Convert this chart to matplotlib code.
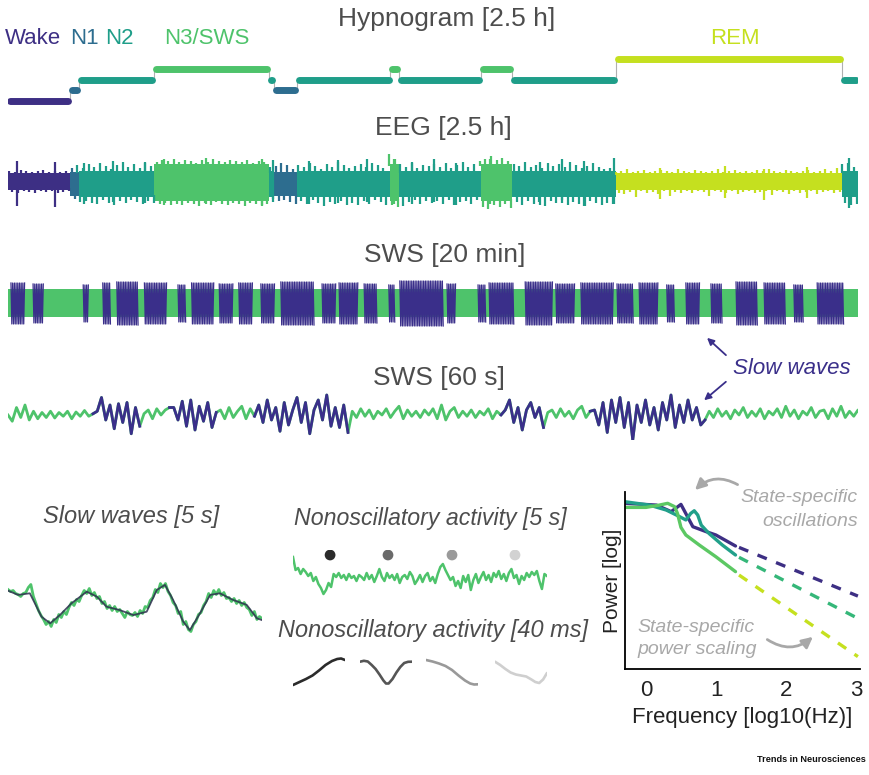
import numpy as np
import matplotlib.pyplot as plt

plt.rcParams['font.family'] = ['Liberation Sans', 'DejaVu Sans']

# ---- hypnogram (minutes) ----
hyp_edges = [0, 11, 12.5, 25.8, 46, 47, 51, 67.5, 69, 83.4, 89, 107.3, 147.2, 150]
hyp_stages = ['Wake', 'N1', 'N2', 'N3', 'N2', 'N1', 'N2', 'N3', 'N2', 'N3', 'N2', 'REM', 'N2']
stage_names = ['Wake', 'N1', 'N2', 'N3', 'REM']
stage_level = [0, 1, 2, 3, 4]
stage_colors = ['#3d2f84', '#2d6d8f', '#1f9e89', '#4ec36b', '#c5e01f']
# EEG band half-heights per stage (up, down)
eeg_band_up = [0.45, 0.5, 0.55, 0.9, 0.45]
eeg_band_dn = [0.4, 0.7, 0.75, 0.95, 0.38]

# ---- EEG 2.5 h: ragged edge above / below the band, one value per minute ----
eeg_edge_up = [0.1, 0.05, 0.15, 0.1, 0.05, 0.1, 0.15, 0.05, 0.1, 0.05, 0.1, 0.2, 0.3, 0.15, 0.35,
               0.2, 0.4, 0.25, 0.1, 0.3, 0.45, 0.2, 0.35, 0.15, 0.4, 0.25, 0.1, 0.2, 0.15, 0.25,
               0.1, 0.2, 0.15, 0.05, 0.2, 0.1, 0.25, 0.15, 0.1, 0.2, 0.15, 0.1, 0.2, 0.05, 0.15,
               0.1, 0.2, 0.3, 0.45, 0.35, 0.15, 0.3, 0.2, 0.4, 0.25, 0.1, 0.35, 0.2, 0.45, 0.3,
               0.15, 0.25, 0.35, 0.2, 0.4, 0.3, 0.15, 0.5, 0.25, 0.35, 0.2, 0.4, 0.15, 0.3, 0.25,
               0.35, 0.2, 0.4, 0.15, 0.3, 0.45, 0.2, 0.35, 0.15, 0.25, 0.4, 0.2, 0.3, 0.15, 0.35,
               0.25, 0.45, 0.2, 0.3, 0.15, 0.4, 0.25, 0.35, 0.2, 0.45, 0.3, 0.15, 0.25, 0.4, 0.2,
               0.1, 0.15, 0.05, 0.1, 0.2, 0.05, 0.1, 0.15, 0.05, 0.1, 0.15, 0.1, 0.05, 0.2, 0.1,
               0.05, 0.15, 0.1, 0.05, 0.1, 0.2, 0.05, 0.1, 0.15, 0.05, 0.1, 0.05, 0.15, 0.1, 0.2,
               0.1, 0.05, 0.15, 0.1, 0.05, 0.1, 0.15, 0.05, 0.1, 0.2, 0.1, 0.25, 0.35, 0.4, 0.2]
eeg_edge_dn = [0.1, 0.15, 0.05, 0.1, 0.15, 0.05, 0.1, 0.05, 0.15, 0.1, 0.05, 0.15, 0.25, 0.2, 0.3,
               0.35, 0.15, 0.3, 0.4, 0.2, 0.3, 0.15, 0.25, 0.35, 0.2, 0.3, 0.15, 0.1, 0.2, 0.15,
               0.2, 0.1, 0.15, 0.25, 0.1, 0.2, 0.05, 0.15, 0.2, 0.1, 0.15, 0.25, 0.1, 0.15, 0.2,
               0.15, 0.1, 0.25, 0.2, 0.3, 0.4, 0.2, 0.35, 0.15, 0.3, 0.45, 0.25, 0.35, 0.2, 0.4,
               0.3, 0.4, 0.2, 0.35, 0.15, 0.25, 0.4, 0.2, 0.3, 0.45, 0.25, 0.15, 0.35, 0.2, 0.3,
               0.2, 0.35, 0.15, 0.4, 0.25, 0.2, 0.35, 0.15, 0.3, 0.4, 0.2, 0.3, 0.15, 0.35, 0.25,
               0.4, 0.2, 0.35, 0.25, 0.45, 0.2, 0.3, 0.15, 0.4, 0.25, 0.35, 0.45, 0.2, 0.3, 0.4,
               0.3, 0.35, 0.15, 0.2, 0.1, 0.35, 0.05, 0.15, 0.1, 0.2, 0.05, 0.3, 0.1, 0.15, 0.05,
               0.15, 0.05, 0.1, 0.3, 0.05, 0.1, 0.15, 0.05, 0.2, 0.1, 0.05, 0.15, 0.1, 0.05, 0.25,
               0.05, 0.1, 0.2, 0.05, 0.15, 0.1, 0.05, 0.2, 0.1, 0.05, 0.15, 0.1, 0.3, 0.4, 0.35]
# a few larger spikes (minute, top, bottom)
eeg_spk_t = [1.6, 8.3, 13.4, 18.6, 24.2, 27.5, 35.0, 44.8, 46.8, 53.2, 58.3, 63.3, 68.2,
             71.3, 75.2, 79.1, 85.0, 93.9, 97.8, 101.7, 106.9, 115.0, 126.5, 133.5, 141.0, 148.5]
eeg_spk_hi = [1.05, 1.0, 0.95, 1.05, 1.0, 1.15, 1.2, 1.15, 1.1, 1.05, 1.1, 1.15, 1.15,
              1.0, 1.15, 0.95, 1.15, 1.0, 1.15, 1.05, 1.2, 0.7, 0.8, 0.65, 0.75, 1.2]
eeg_spk_lo = [-1.2, -1.25, -1.1, -1.0, -1.05, -1.15, -1.1, -1.2, -1.0, -1.1, -1.05, -1.0, -1.1,
              -1.1, -1.0, -1.15, -1.1, -1.15, -1.05, -1.2, -1.1, -0.85, -0.8, -0.9, -0.8, -1.3]

# ---- SWS 20 min: slow wave bursts (minutes) ----
sws20_start = [0.07, 0.59, 1.77, 2.23, 2.56, 3.21, 4.0, 4.32, 4.97, 5.43, 5.95, 6.42, 7.39, 7.79,
               8.38, 8.96, 9.22, 10.33, 11.06, 11.32, 12.17, 12.89, 13.48, 14.33, 14.85, 15.5,
               15.95, 16.54, 17.13, 17.79, 18.49, 19.04]
sws20_end = [0.40, 0.85, 1.91, 2.42, 3.08, 3.74, 4.19, 4.85, 5.30, 5.76, 6.28, 7.2, 7.72, 8.24,
             8.70, 9.12, 10.26, 10.54, 11.25, 11.91, 12.82, 13.34, 14.26, 14.71, 15.3, 15.69,
             16.28, 16.8, 17.65, 18.31, 18.71, 19.67]
sws20_amp = [1.0, 0.95, 0.9, 1.0, 1.05, 1.0, 0.9, 1.0, 0.95, 1.0, 0.95, 1.05, 0.95, 1.0,
             0.95, 0.9, 1.1, 0.95, 0.9, 1.0, 1.05, 0.95, 1.0, 0.95, 1.0, 0.9,
             1.0, 0.95, 1.05, 1.0, 0.9, 1.0]

# ---- SWS 60 s (0.3 s steps) ----
sws60_uv = [0.0, -0.25, 0.3, -0.1, 0.4, -0.2, 0.15, -0.15, 0.1, -0.1,
            0.15, -0.12, 0.1, -0.05, 0.15, -0.15, 0.12, -0.05, 0.18, -0.05,
            0.05, 0.15, 0.7, -0.2, 0.4, -0.55, 0.45, -0.3, 0.5, -0.75,
            0.3, -0.45, 0.05, 0.2, -0.15, 0.25, 0.0, 0.2, 0.3, 0.3,
            -0.2, 0.55, -0.45, 0.6, -0.6, 0.35, -0.25, 0.5, -0.5, 0.1,
            0.2, -0.15, 0.3, -0.1, 0.15, 0.35, -0.15, 0.25, -0.05, 0.4,
            -0.3, 0.6, -0.2, 0.3, -0.65, 0.5, -0.4, 0.2, 0.7, -0.3,
            0.5, -0.75, 0.2, 0.6, -0.2, 0.8, -0.45, 0.3, -0.5, 0.4,
            -0.7, 0.15, -0.1, 0.25, -0.05, 0.2, -0.15, 0.15, 0.0, 0.25,
            -0.1, 0.15, 0.35, -0.15, 0.2, -0.05, 0.15, -0.1, 0.2, 0.0,
            0.25, -0.15, 0.4, -0.2, 0.15, 0.3, -0.1, 0.15, -0.05, 0.2,
            -0.1, 0.15, 0.0, 0.25, -0.15, 0.15, 0.0, 0.2, 0.6, -0.3,
            0.3, -0.6, 0.2, 0.5, -0.1, 0.3, -0.5, 0.1, 0.2, -0.1,
            0.25, -0.05, 0.15, -0.15, 0.2, 0.35, -0.1, 0.15, 0.2, -0.4,
            0.5, -0.7, 0.6, -0.3, 0.7, -0.5, 0.5, -1.0, 0.4, -0.3,
            0.6, -0.4, 0.3, -0.6, 0.5, -0.2, 0.8, -0.5, 0.4, -0.3,
            0.6, -0.2, 0.3, -0.4, -0.2, 0.15, -0.1, 0.25, -0.05, 0.15,
            -0.15, 0.2, 0.0, 0.3, -0.1, 0.15, -0.05, 0.25, -0.15, 0.15,
            0.0, 0.25, -0.1, 0.35, -0.05, 0.2, -0.15, 0.15, 0.0, 0.3,
            -0.1, 0.15, 0.2, -0.15, 0.25, -0.05, 0.35, -0.1, 0.15, -0.05,
            0.2, -0.15, 0.25, 0.0, 0.15, -0.1, 0.3, -0.05, 0.15, -0.15,
            0.2]
sws60_slow = [(6.3, 9.3), (11.7, 14.7), (17.7, 24.0), (35.1, 37.8), (41.4, 49.2)]

# ---- slow waves 5 s ----
sw_smooth_t = [0.0, 0.2, 0.43, 0.66, 0.83, 1.02, 1.25, 1.55, 1.75, 1.94, 2.2, 2.47, 2.73,
               2.93, 3.09, 3.25, 3.45, 3.58, 3.78, 3.98, 4.17, 4.43, 4.7, 4.9, 5.0]
sw_smooth_v = [0.84, 0.63, 0.71, -0.46, -0.79, -0.38, 0.21, 0.79, 0.54, 0.04, -0.13, -0.38, -0.21,
               0.88, 1.13, 0.38, -0.71, -1.13, -0.29, 0.63, 0.71, 0.38, 0.13, -0.54, -0.63]
sw_raw_v = [0.9, 0.8, 0.85, 0.7, 0.65, 0.55, 0.7, 0.75, 1.0, 1.15,
            0.55, 0.2, -0.15, -0.4, -0.6, -0.85, -0.7, -0.95, -0.6, -0.75,
            -0.35, -0.5, -0.2, -0.35, 0.0, 0.25, 0.1, 0.4, 0.3, 0.6,
            0.85, 0.7, 0.95, 0.6, 0.75, 0.45, 0.55, 0.2, 0.3, -0.05,
            0.1, -0.15, 0.05, -0.2, -0.1, -0.3, -0.5, -0.2, -0.35, -0.4,
            -0.25, -0.45, -0.15, -0.3, 0.05, 0.0, 0.35, 0.5, 0.9, 0.75,
            1.2, 1.0, 1.2, 0.8, 0.6, 0.25, 0.1, -0.3, -0.2, -0.85,
            -0.7, -1.1, -1.2, -0.85, -0.7, -0.35, -0.25, 0.1, 0.3, 0.7,
            0.5, 0.85, 0.65, 0.9, 0.6, 0.75, 0.45, 0.5, 0.3, 0.45,
            0.2, 0.35, 0.1, 0.25, 0.0, -0.1, -0.4, -0.2, -0.6, -0.45,
            -0.55]

# ---- nonoscillatory activity 5 s ----
no_raw_v = [2.1, 0.8, 1.0, 0.4, 0.9, 0.6, 0.2, 0.5, -0.3, 0.1,
            -0.6, -1.0, -1.6, -1.2, -0.5, -0.9, 0.4, 0.1, 0.5, 0.0,
            0.3, -0.2, 0.4, 0.0, 0.2, -0.3, 0.3, 0.1, -0.2, 0.5,
            -0.1, 0.3, -0.4, 0.2, 0.9, 0.1, -0.3, 0.5, 0.0, 0.3,
            -0.2, 0.4, -0.5, 0.1, 0.3, -0.1, 0.6, 0.2, -0.6, -0.2,
            0.3, -0.4, 0.2, 0.5, -0.3, 0.1, -0.5, 0.4, 1.1, 1.4,
            0.8, 0.3, -0.2, 0.1, -0.8, -0.3, -1.0, 0.2, -0.4, 0.3,
            -1.2, -0.2, 0.4, -0.5, 0.1, 0.6, -0.2, 0.3, -0.4, 0.5,
            0.1, 0.7, -0.1, 0.4, -0.3, 0.5, 0.9, 0.0, 0.3, -0.6,
            0.2, -0.2, 0.5, 0.1, 0.6, 0.3, 0.7, -0.3, -1.1, 0.4,
            0.2]
dot_t = [0.73, 1.87, 3.13, 4.37]
dot_colors = ['#2b2b2b', '#6a6a6a', '#9a9a9a', '#d2d2d2']

# ---- nonoscillatory activity 40 ms ----
ms_t = [[0, 5, 10, 15, 20, 25, 30, 34, 37, 40],
        [0, 3, 6, 9, 12, 15, 18, 20, 22, 25, 28, 31, 34, 37, 40],
        [0, 5, 10, 15, 20, 25, 30, 34, 37, 40],
        [0, 4, 8, 12, 16, 20, 24, 28, 31, 34, 37, 40]]
ms_v = [[-1.3, -1.0, -0.7, -0.35, 0.15, 0.7, 1.1, 1.3, 1.35, 1.2],
        [1.03, 1.12, 1.05, 0.7, 0.3, -0.25, -0.85, -1.15, -1.15, -0.7, -0.05, 0.5, 0.9, 1.02, 1.03],
        [1.2, 1.05, 0.85, 0.6, 0.2, -0.35, -0.85, -1.15, -1.25, -1.23],
        [1.03, 0.7, 0.3, -0.05, -0.25, -0.35, -0.45, -0.75, -1.0, -1.1, -0.75, -0.1]]
ms_colors = ['#2b2b2b', '#555555', '#999999', '#cfcfcf']

# ---- power spectra ----
psd_f = [[-0.31, 0.14, 0.35, 0.49, 0.66, 0.85, 0.99, 1.27],
         [-0.31, 0.04, 0.28, 0.47, 0.56, 0.63, 0.68, 0.73, 0.78, 0.89, 1.08, 1.27],
         [-0.31, -0.01, 0.18, 0.30, 0.40, 0.44, 0.49, 0.56, 0.75, 0.99, 1.27]]
psd_p = [[0.936, 0.926, 0.889, 0.93, 0.804, 0.776, 0.757, 0.695],
         [0.945, 0.926, 0.898, 0.861, 0.842, 0.879, 0.894, 0.87, 0.813, 0.766, 0.701, 0.644],
         [0.913, 0.913, 0.926, 0.936, 0.917, 0.879, 0.80, 0.757, 0.701, 0.634, 0.55]]
psd_colors = ['#3d2f84', '#21a08a', '#5cc863']
fit_f = [1.32, 3.02]
fit_p = [[0.687, 0.412], [0.631, 0.286], [0.531, 0.07]]
fit_colors = ['#3d2f84', '#35b779', '#c5e01f']

GREEN = '#4ec36b'
BLUE = '#3a2f8a'
TXT = '#4d4d4d'

W, H = 870, 775
fig = plt.figure(figsize=(8.7, 7.75), dpi=100)


def fx(x):
    return x / W


def fy(y):
    return 1 - y / H


def px_axes(x0, y0, x1, y1):
    ax = fig.add_axes([x0 / W, 1 - y1 / H, (x1 - x0) / W, (y1 - y0) / H])
    ax.set_axis_off()
    return ax


def col_of(stage):
    return stage_colors[stage_names.index(stage)]


def stage_at(t):
    j = np.searchsorted(hyp_edges, t, side='right') - 1
    return stage_names.index(hyp_stages[min(j, len(hyp_stages) - 1)])


# hypnogram
ax = px_axes(8, 45, 858, 112)
ax.set_xlim(0, 150)
ax.set_ylim(-1.095, 5.29)
lev = [stage_level[stage_names.index(s)] for s in hyp_stages]
ax.step(hyp_edges, lev + [lev[-1]], where='post', color='#b0b0b0', lw=0.8, zorder=1)
for i, s in enumerate(hyp_stages):
    a, b = hyp_edges[i] + 0.35, hyp_edges[i + 1] - 0.35
    ax.plot([a, b], [lev[i], lev[i]], color=col_of(s), lw=5, solid_capstyle='round', zorder=2)

fig.text(fx(447), fy(19), 'Hypnogram [2.5 h]', ha='center', va='center', fontsize=19, color=TXT)
fig.text(fx(5), fy(38), 'Wake', ha='left', va='center', fontsize=16, color=stage_colors[0])
fig.text(fx(70), fy(38), 'N1', ha='left', va='center', fontsize=16, color=stage_colors[1])
fig.text(fx(105), fy(38), 'N2', ha='left', va='center', fontsize=16, color=stage_colors[2])
fig.text(fx(164), fy(38), 'N3/SWS', ha='left', va='center', fontsize=16, color=stage_colors[3])
fig.text(fx(735), fy(38), 'REM', ha='center', va='center', fontsize=16, color=stage_colors[4])

# EEG 2.5 h
ax = px_axes(8, 145, 858, 220)
ax.set_xlim(0, 150)
ax.set_ylim(-1.9, 1.85)
for i, s in enumerate(hyp_stages):
    k = stage_names.index(s)
    ax.fill_between([hyp_edges[i], hyp_edges[i + 1]], -eeg_band_dn[k], eeg_band_up[k],
                    color=stage_colors[k], lw=0)
t_edge = np.arange(len(eeg_edge_up)) + 0.5
k_edge = [stage_at(t) for t in t_edge]
ax.vlines(t_edge - 0.25, [eeg_band_up[k] - 0.1 for k in k_edge],
          [eeg_band_up[k] + u for k, u in zip(k_edge, eeg_edge_up)],
          colors=[stage_colors[k] for k in k_edge], lw=1.6)
ax.vlines(t_edge + 0.25, [-eeg_band_dn[k] - d for k, d in zip(k_edge, eeg_edge_dn)],
          [-eeg_band_dn[k] + 0.1 for k in k_edge],
          colors=[stage_colors[k] for k in k_edge], lw=1.6)
ax.vlines(eeg_spk_t, eeg_spk_lo, eeg_spk_hi,
          colors=[stage_colors[stage_at(t)] for t in eeg_spk_t], lw=1.6)
fig.text(fx(443), fy(128), 'EEG [2.5 h]', ha='center', va='center', fontsize=19, color=TXT)

# SWS 20 min
ax = px_axes(8, 279, 858, 327)
ax.set_xlim(0, 20)
ax.set_ylim(-1.2, 1.2)
ax.fill_between([0, 20], -0.68, 0.68, color=GREEN, lw=0)
for a, b, amp in zip(sws20_start, sws20_end, sws20_amp):
    xs = np.arange(a, b, 0.02)
    ys = np.where(np.arange(len(xs)) % 2 == 0, amp, -amp - 0.05)
    ax.plot(xs, ys, color=BLUE, lw=0.9)
fig.text(fx(445), fy(255), 'SWS [20 min]', ha='center', va='center', fontsize=19, color=TXT)

# SWS 60 s
ax = px_axes(8, 390, 858, 440)
ax.set_xlim(0, 60)
ax.set_ylim(-1, 1)
t60 = np.arange(len(sws60_uv)) * 0.3
v60 = np.array(sws60_uv)
ax.plot(t60, v60, color=GREEN, lw=2.0)
for a, b in sws60_slow:
    m = (t60 >= a - 0.31) & (t60 <= b + 0.01)
    ax.plot(t60[m], v60[m], color=BLUE, lw=2.0)
fig.text(fx(439), fy(378), 'SWS [60 s]', ha='center', va='center', fontsize=19, color=TXT)

fig.text(fx(733), fy(368), 'Slow waves', ha='left', va='center', fontsize=16,
         style='italic', color=BLUE)
for xy, xyt in [((705, 336), (728, 357)), ((702, 402), (728, 380))]:
    fig.add_artist(plt.Annotation('', xy=(fx(xy[0]), fy(xy[1])), xytext=(fx(xyt[0]), fy(xyt[1])),
                                  xycoords='figure fraction',
                                  arrowprops=dict(arrowstyle='-|>', color=BLUE, lw=1.3,
                                                  mutation_scale=10)))

# slow waves 5 s
ax = px_axes(8, 575, 262, 640)
ax.set_xlim(0, 5)
ax.set_ylim(-1.625, 1.625)
t5 = np.arange(len(sw_raw_v)) * 0.05
ax.plot(t5, sw_raw_v, color=GREEN, lw=2.0)
ax.plot(sw_smooth_t, sw_smooth_v, color='#2e2f4f', lw=1.3, alpha=0.85)
fig.text(fx(131), fy(517), 'Slow waves [5 s]', ha='center', va='center', fontsize=17,
         style='italic', color=TXT)

# nonoscillatory 5 s
ax = px_axes(293, 550, 547, 600)
ax.set_xlim(0, 5)
ax.set_ylim(-2.2, 2.8)
ax.plot(np.arange(len(no_raw_v)) * 0.05, no_raw_v, color=GREEN, lw=1.8)
ax.scatter(dot_t, [2.3] * len(dot_t), s=60, c=dot_colors, lw=0)
fig.text(fx(430), fy(518), 'Nonoscillatory activity [5 s]', ha='center', va='center',
         fontsize=16.7, style='italic', color=TXT)

# nonoscillatory 40 ms
fig.text(fx(433), fy(630), 'Nonoscillatory activity [40 ms]', ha='center', va='center',
         fontsize=16.9, style='italic', color=TXT)
for k, x0 in enumerate([293, 360, 426, 495]):
    ax = px_axes(x0, 652, x0 + 52, 692)
    ax.set_xlim(0, 40)
    ax.set_ylim(-2, 2)
    ax.plot(ms_t[k], ms_v[k], color=ms_colors[k], lw=1.9, solid_capstyle='round')

# power spectrum
ax = fig.add_axes([625 / W, 1 - 669 / H, (860 - 625) / W, (669 - 492) / H])
ax.set_xlim(-0.31, 3.05)
ax.set_ylim(0, 1)
for f, p, c in zip(psd_f, psd_p, psd_colors):
    ax.plot(f, p, color=c, lw=2.4, solid_capstyle='round')
for p, c in zip(fit_p, fit_colors):
    ax.plot(fit_f, p, color=c, lw=2.4, ls=(0, (3, 3)))
for s in ['top', 'right']:
    ax.spines[s].set_visible(False)
for s in ['left', 'bottom']:
    ax.spines[s].set_linewidth(1.3)
ax.set_xticks([0, 1, 2, 3])
ax.set_yticks([])
ax.tick_params(length=0, labelsize=16, pad=8, colors='#222222')
ax.set_xlabel('Frequency [log10(Hz)]', fontsize=16, labelpad=4, color='#222222')
ax.set_ylabel('Power [log]', fontsize=15, labelpad=2, color='#222222')

GRAY = '#a8a8a8'
fig.text(fx(858), fy(498), 'State-specific', ha='right', va='center', fontsize=14,
         style='italic', color=GRAY)
fig.text(fx(858), fy(522), 'oscillations', ha='right', va='center', fontsize=14,
         style='italic', color=GRAY)
fig.text(fx(637), fy(627), 'State-specific', ha='left', va='center', fontsize=14,
         style='italic', color=GRAY)
fig.text(fx(637), fy(650), 'power scaling', ha='left', va='center', fontsize=14,
         style='italic', color=GRAY)
fig.add_artist(plt.Annotation('', xy=(fx(693), fy(492)), xytext=(fx(740), fy(486)),
                              xycoords='figure fraction',
                              arrowprops=dict(arrowstyle='-|>', color=GRAY, lw=2,
                                              mutation_scale=16,
                                              connectionstyle='arc3,rad=0.4')))
fig.add_artist(plt.Annotation('', xy=(fx(815), fy(635)), xytext=(fx(765), fy(638)),
                              xycoords='figure fraction',
                              arrowprops=dict(arrowstyle='-|>', color=GRAY, lw=2,
                                              mutation_scale=16,
                                              connectionstyle='arc3,rad=0.4')))

fig.text(fx(866), fy(760), 'Trends in Neurosciences', ha='right', va='center', fontsize=6.6,
         weight='bold', color='#111111')

fig.savefig('out.png', dpi=100)
